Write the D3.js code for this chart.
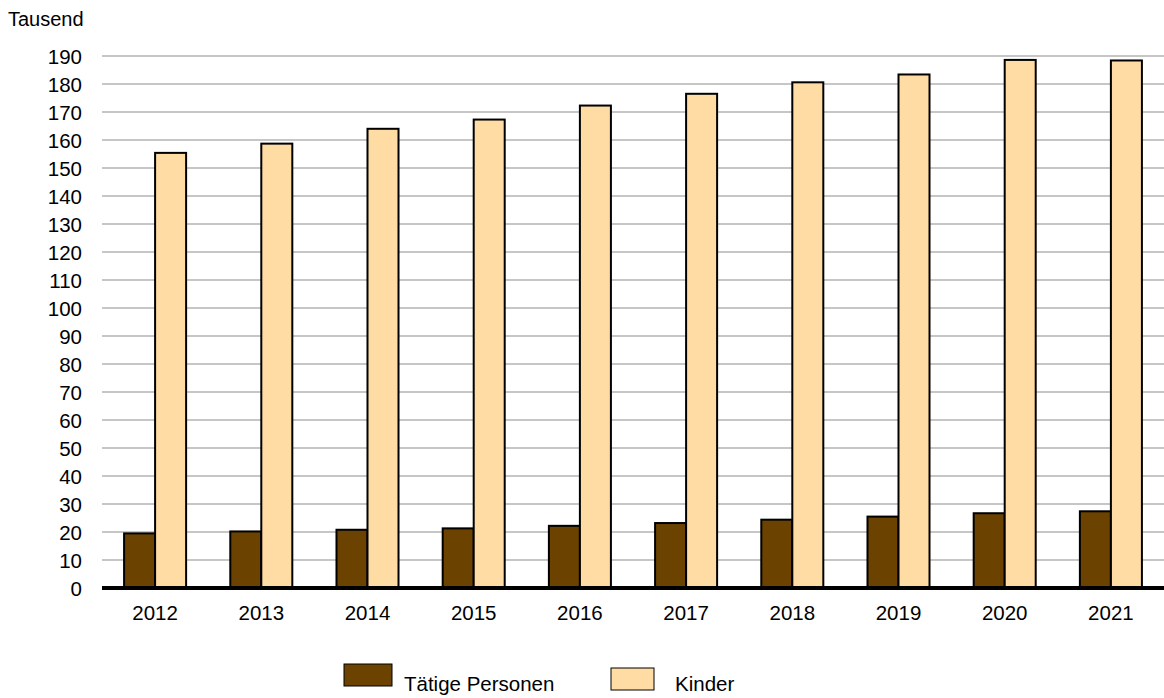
<!DOCTYPE html>
<html>
<head>
<meta charset="utf-8">
<script src="https://cdn.jsdelivr.net/npm/d3@7"></script>
<style>
  body { margin: 0; background: #fff; }
  svg text { font-family: "Liberation Sans", Arial, sans-serif; fill: #000; }
</style>
</head>
<body>
<svg id="chart" width="1164" height="698"></svg>
<script>
// data
const years = ["2012", "2013", "2014", "2015", "2016", "2017", "2018", "2019", "2020", "2021"];
const seriesNames = ["Tätige Personen", "Kinder"];
const taetigePersonen = [19.5, 20.2, 20.8, 21.3, 22.2, 23.2, 24.4, 25.5, 26.7, 27.4];
const kinder = [155.4, 158.7, 164.0, 167.3, 172.3, 176.5, 180.6, 183.4, 188.6, 188.4];
const yTicks = d3.range(0, 191, 10);
const colors = ["#6b4200", "#ffdca3"];

const svg = d3.select("#chart");
const margin = { left: 102, right: 0, top: 56, bottom: 110 };
const height = 588;
const fs = 20.5;

const x0 = d3.scaleBand()
    .domain(years)
    .range([margin.left, 1164])
    .paddingInner(0.416)
    .paddingOuter(0.208);

const x1 = d3.scaleBand()
    .domain(seriesNames)
    .range([0, x0.bandwidth()]);

const y = d3.scaleLinear()
    .domain([0, 190])
    .range([height, margin.top]);

// gridlines
svg.append("g")
    .selectAll("line")
    .data(yTicks.filter(d => d > 0))
    .enter()
    .append("line")
    .attr("x1", margin.left)
    .attr("x2", 1164)
    .attr("y1", d => y(d))
    .attr("y2", d => y(d))
    .attr("stroke", "#b3b3b3")
    .attr("stroke-width", 1.3);

// y axis labels
const yAxis = d3.axisLeft(y).tickValues(yTicks).tickSize(0).tickPadding(20);
const yg = svg.append("g")
    .attr("transform", `translate(${margin.left},0)`)
    .call(yAxis);
yg.select(".domain").remove();
yg.attr("font-size", null).attr("font-family", null);
yg.selectAll("text")
    .style("font-size", fs + "px")
    .attr("dy", "0.36em");

svg.append("text")
    .attr("x", 8)
    .attr("y", 26)
    .style("font-size", "20px")
    .text("Tausend");

// bars
const rows = years.map((yr, i) => ({ year: yr, values: [taetigePersonen[i], kinder[i]] }));

const groups = svg.append("g")
    .selectAll("g")
    .data(rows)
    .enter()
    .append("g")
    .attr("transform", d => `translate(${x0(d.year)},0)`);

groups.selectAll("rect")
    .data(d => d.values.map((v, j) => ({ key: seriesNames[j], value: v, idx: j })))
    .enter()
    .append("rect")
    .attr("x", d => x1(d.key))
    .attr("y", d => y(d.value))
    .attr("width", x1.bandwidth())
    .attr("height", d => height - y(d.value))
    .attr("fill", d => colors[d.idx])
    .attr("stroke", "#000")
    .attr("stroke-width", 2);

// x axis
const xAxis = d3.axisBottom(x0).tickSize(0).tickPadding(17);
const xg = svg.append("g")
    .attr("transform", `translate(0,${height})`)
    .call(xAxis);
xg.select(".domain").remove();
xg.attr("font-size", null).attr("font-family", null);
xg.selectAll("text")
    .style("font-size", fs + "px");

svg.append("line")
    .attr("x1", margin.left)
    .attr("x2", 1164)
    .attr("y1", height)
    .attr("y2", height)
    .attr("stroke", "#000")
    .attr("stroke-width", 4);

// legend
const legend = [
    { name: seriesNames[0], color: colors[0], rx: 344, ry: 664, w: 48, h: 22, tx: 404 },
    { name: seriesNames[1], color: colors[1], rx: 611, ry: 668, w: 43, h: 22, tx: 675 }
];
const lg = svg.append("g")
    .selectAll("g")
    .data(legend)
    .enter()
    .append("g");
lg.append("rect")
    .attr("x", d => d.rx)
    .attr("y", d => d.ry)
    .attr("width", d => d.w)
    .attr("height", d => d.h)
    .attr("fill", d => d.color)
    .attr("stroke", "#000")
    .attr("stroke-width", 1);
lg.append("text")
    .attr("x", d => d.tx)
    .attr("y", 691)
    .style("font-size", fs + "px")
    .text(d => d.name);
</script>
</body>
</html>
